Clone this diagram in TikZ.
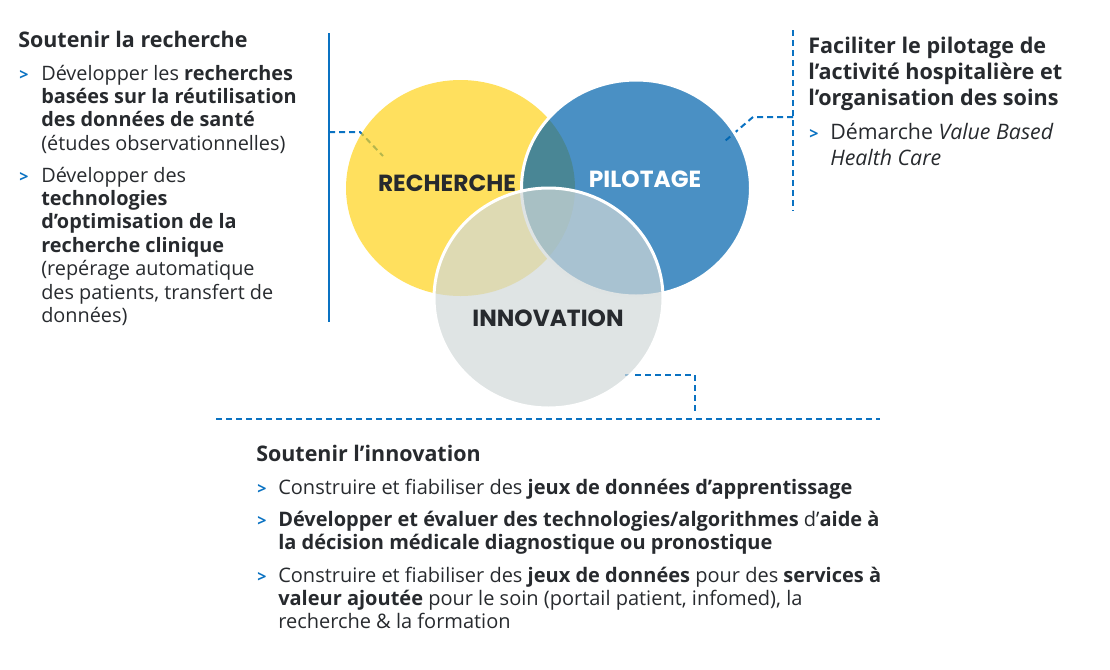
\documentclass[tikz,border=0pt]{standalone}
\usepackage{fontspec}
\setmainfont{Open Sans}
\newfontfamily\circfont{Poppins}
\usetikzlibrary{shapes.geometric}
\definecolor{txt}{HTML}{272A2E}
\definecolor{lineblue}{HTML}{0A72C2}
\definecolor{cyellow}{RGB}{255,211,26}
\definecolor{cblue}{RGB}{0,99,172}
\definecolor{cgray}{RGB}{209,216,216}
\newcommand\rows[1]{\begin{tabular}[t]{@{}l@{}}#1\end{tabular}}
\begin{document}
\begin{tikzpicture}[x=0.75pt,y=-0.75pt,
  conn/.style={lineblue, line width=1.5pt, dash pattern=on 4.5pt off 3pt},
  solidconn/.style={lineblue, line width=1.5pt},
  venn/.style={ellipse, inner sep=0pt, minimum width=171.75pt, minimum height=162pt},
  circlabel/.style={font=\circfont\bfseries\fontsize{17.5}{19}\selectfont, inner sep=0pt},
  body/.style={anchor=base west, inner sep=0pt, text=txt, font=\fontsize{14.9}{17.6}\selectfont},
  bodybig/.style={anchor=base west, inner sep=0pt, text=txt, font=\fontsize{16}{19.5}\selectfont},
  bodybot/.style={anchor=base west, inner sep=0pt, text=txt, font=\fontsize{15}{17.25}\selectfont},
  heading/.style={anchor=base west, inner sep=0pt, text=txt, font=\bfseries\fontsize{16.1}{18}\selectfont},
  headbig/.style={anchor=base west, inner sep=0pt, text=txt, font=\bfseries\fontsize{16.2}{19.5}\selectfont},
  bullet/.style={anchor=base west, inner sep=0pt, text=lineblue, font=\bfseries\fontsize{12}{14}\selectfont}
]
\useasboundingbox (0,0) rectangle (1110,669);

% connector coordinates
\coordinate (lt) at (329,33);
\coordinate (lb) at (329,322);
\coordinate (lm) at (329,132);
\coordinate (lk) at (360,132);
\coordinate (le) at (383,156);
\coordinate (rt) at (793,30);
\coordinate (rb) at (793,211);
\coordinate (rm) at (793,117);
\coordinate (rk) at (753,117);
\coordinate (re) at (725,141);
\coordinate (is) at (625,375);
\coordinate (ik) at (695,375);
\coordinate (ie) at (695,411);
\coordinate (bl) at (216,419);
\coordinate (br) at (880,419);

% connectors (under the circles)
\draw[solidconn] (lt) -- (lb);
\draw[conn] (lm) -- (lk) -- (le);
\draw[conn] (rt) -- (rb);
\draw[conn] (rm) -- (rk) -- (re);
\draw[conn] (is) -- (ik) -- (ie);
\draw[conn] (bl) -- (br);

% circles
\node[venn, fill=cyellow, fill opacity=0.7] (rech) at (460.5,188) {};
\node[venn, fill=cblue, fill opacity=0.71, draw=white, draw opacity=1, line width=2.25pt] (pilo) at (636,188) {};
\node[venn, minimum height=165pt, fill=cgray, fill opacity=0.7, draw=white, draw opacity=1, line width=2.25pt] (inno) at (548.5,298) {};

% circle labels
\node[circlabel, text=txt] (lrech) at (447,183) {RECHERCHE};
\node[circlabel, text=white] (lpilo) at (645,179) {PILOTAGE};
\node[circlabel, text=txt] (linno) at (548,318) {INNOVATION};

% left block
\node[heading] (t1) at (18,47) {Soutenir la recherche};
\node[bullet] (b11) at (19,80) {>};
\node[body] (i11) at (41,80) {\rows{Développer les \textbf{recherches}\\ \textbf{basées sur la réutilisation}\\ \textbf{des données de santé}\\ (études observationnelles)}};
\node[bullet] (b12) at (19,182) {>};
\node[body] (i12) at (41,182) {\rows{Développer des\\ \textbf{technologies}\\ \textbf{d’optimisation de la}\\ \textbf{recherche clinique}\\ (repérage automatique\\ des patients, transfert de\\ données)}};

% right block
\node[headbig] (t2) at (808,53) {\rows{Faciliter le pilotage de\\ l’activité hospitalière et\\ l’organisation des soins}};
\node[bullet] (b21) at (809,139) {>};
\node[bodybig] (i21) at (830,139) {\rows{Démarche \textit{Value Based}\\ \textit{Health Care}}};

% bottom block
\node[heading] (t3) at (256,461) {Soutenir l’innovation};
\node[bullet] (b31) at (257,494) {>};
\node[bodybot] (i31) at (278,494) {\rows{Construire et fiabiliser des \textbf{jeux de données d’apprentissage}}};
\node[bullet] (b32) at (257,526) {>};
\node[bodybot] (i32) at (278,526) {\rows{\textbf{Développer et évaluer des technologies/algorithmes} d’\textbf{aide à}\\ \textbf{la décision médicale diagnostique ou pronostique}}};
\node[bullet] (b33) at (257,582) {>};
\node[bodybot] (i33) at (278,582) {\rows{Construire et fiabiliser des \textbf{jeux de données} pour des \textbf{services à}\\ \textbf{valeur ajoutée} pour le soin (portail patient, infomed), la\\ recherche \& la formation}};
\end{tikzpicture}
\end{document}
